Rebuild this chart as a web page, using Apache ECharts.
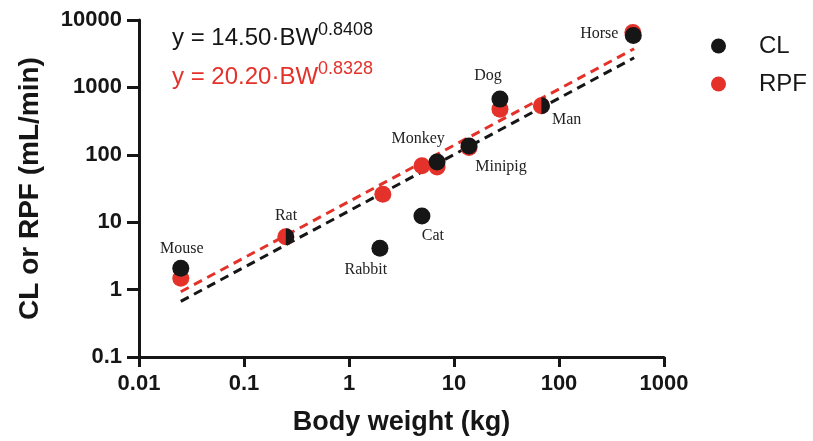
<!DOCTYPE html>
<html lang="en">
<head>
<meta charset="utf-8">
<title>CL / RPF vs body weight</title>
<script src="https://cdn.jsdelivr.net/npm/echarts@6/dist/echarts.min.js"></script>
<style>
  html, body { margin: 0; padding: 0; background: #fff; }
  #main { width: 813px; height: 441px; }
</style>
</head>
<body>
<div id="main"></div>
<script>
// species
var species = ['Mouse', 'Rat', 'Rabbit', 'Cat', 'Monkey', 'Minipig', 'Dog', 'Man', 'Horse'];
var bwCL    = [0.025, 0.25, 1.97, 4.95, 6.9, 13.9, 27.4, 68, 510];
var clVals  = [2.07, 6.1, 4.1, 12.4, 78, 135, 670, 535, 5900];
var bwRPF   = [0.025, 0.25, 2.1, 4.95, 6.9, 13.9, 27.4, 68, 505];
var rpfVals = [1.47, 6.1, 26, 69, 66, 128, 476, 535, 6540];

// fitted power-law lines (end points)
var clFit  = [[0.025, 0.67], [520, 2750]];
var rpfFit = [[0.025, 0.93], [520, 3750]];

var xTicks = ['0.01', '0.1', '1', '10', '100', '1000'];
var yTicks = ['0.1', '1', '10', '100', '1000', '10000'];

var BLACK = '#161616';
var RED = '#e4322b';

// where each species name sits relative to its CL point
var labelOffset = {
  Mouse: [1, -20], Rat: [-4, -21], Rabbit: [-14, 21], Cat: [11, 20],
  Monkey: [-19, -23], Minipig: [32, 21], Dog: [-12, -23], Man: [21, 14], Horse: [-34, -2]
};
var halfDots = ['Rat', 'Man'];

var myChart = echarts.init(document.getElementById('main'));

var clData = species.map(function (name, i) {
  var item = {
    value: [bwCL[i], clVals[i]],
    label: { offset: labelOffset[name] }
  };
  if (halfDots.indexOf(name) >= 0) {
    item.symbol = 'path://M0,0 A10,10 0 0 1 0,20 Z';
    item.symbolSize = [8.5, 17];
    item.symbolOffset = [4.25, 0];
  }
  return item;
});
var rpfData = species.map(function (name, i) {
  return [bwRPF[i], rpfVals[i]];
});

var option = {
  backgroundColor: '#fff',
  animation: false,
  grid: { left: 139, right: 149, top: 20, bottom: 82 },
  legend: {
    data: ['CL', 'RPF'],
    orient: 'vertical',
    left: 706,
    top: 29,
    itemWidth: 15,
    itemHeight: 15,
    itemGap: 14,
    textStyle: {
      fontSize: 24, color: BLACK, fontFamily: 'Liberation Sans',
      padding: [0, 0, 0, 28]
    }
  },
  xAxis: {
    type: 'log',
    logBase: 10,
    min: 0.01,
    max: 1000,
    splitNumber: 6,
    name: 'Body weight (kg)',
    nameLocation: 'middle',
    nameGap: 52,
    nameTextStyle: { fontSize: 27, fontWeight: 'bold', color: BLACK, fontFamily: 'Liberation Sans' },
    axisLine: { lineStyle: { color: BLACK, width: 3 } },
    axisTick: { length: 10, lineStyle: { color: BLACK, width: 3 } },
    minorTick: { show: false },
    splitLine: { show: false },
    axisLabel: {
      margin: 16, fontSize: 22, fontWeight: 'bold', color: BLACK, fontFamily: 'Liberation Sans',
      formatter: function (v) { return xTicks[Math.round(Math.log10(v)) + 2]; }
    }
  },
  yAxis: {
    type: 'log',
    logBase: 10,
    min: 0.1,
    max: 10000,
    splitNumber: 5,
    name: 'CL or RPF (mL/min)',
    nameLocation: 'middle',
    nameGap: 95,
    nameTextStyle: { fontSize: 28, fontWeight: 'bold', color: BLACK, fontFamily: 'Liberation Sans' },
    axisLine: { lineStyle: { color: BLACK, width: 3 } },
    axisTick: { length: 12, lineStyle: { color: BLACK, width: 3 } },
    splitLine: { show: false },
    axisLabel: {
      margin: 17, fontSize: 22, fontWeight: 'bold', color: BLACK, fontFamily: 'Liberation Sans',
      formatter: function (v) { return yTicks[Math.round(Math.log10(v)) + 1]; }
    }
  },
  graphic: [
    { type: 'text', left: 172, top: 26, style: { text: 'y = 14.50·BW', fontSize: 24, fill: BLACK, fontFamily: 'Liberation Sans' } },
    { type: 'text', left: 318, top: 21, style: { text: '0.8408', fontSize: 18, fill: BLACK, fontFamily: 'Liberation Sans' } },
    { type: 'text', left: 172, top: 65, style: { text: 'y = 20.20·BW', fontSize: 24, fill: RED, fontFamily: 'Liberation Sans' } },
    { type: 'text', left: 318, top: 60, style: { text: '0.8328', fontSize: 18, fill: RED, fontFamily: 'Liberation Sans' } }
  ],
  series: [
    {
      name: 'CL fit', type: 'line', data: clFit, symbol: 'none', z: 2,
      lineStyle: { color: BLACK, width: 3, type: [9, 6] }
    },
    {
      name: 'RPF fit', type: 'line', data: rpfFit, symbol: 'none', z: 2,
      lineStyle: { color: RED, width: 3, type: [9, 6] }
    },
    {
      name: 'RPF', type: 'scatter', data: rpfData, symbol: 'circle', symbolSize: 17, z: 3,
      itemStyle: { color: RED, opacity: 1 }
    },
    {
      name: 'CL', type: 'scatter', data: clData, symbol: 'circle', symbolSize: 17, z: 4,
      itemStyle: { color: BLACK, opacity: 1 },
      label: {
        show: true, position: 'inside', color: '#222',
        fontSize: 16, fontFamily: 'Liberation Serif',
        formatter: function (p) { return species[p.dataIndex]; }
      },
      emphasis: { disabled: true }
    }
  ]
};

myChart.setOption(option);
</script>
</body>
</html>
